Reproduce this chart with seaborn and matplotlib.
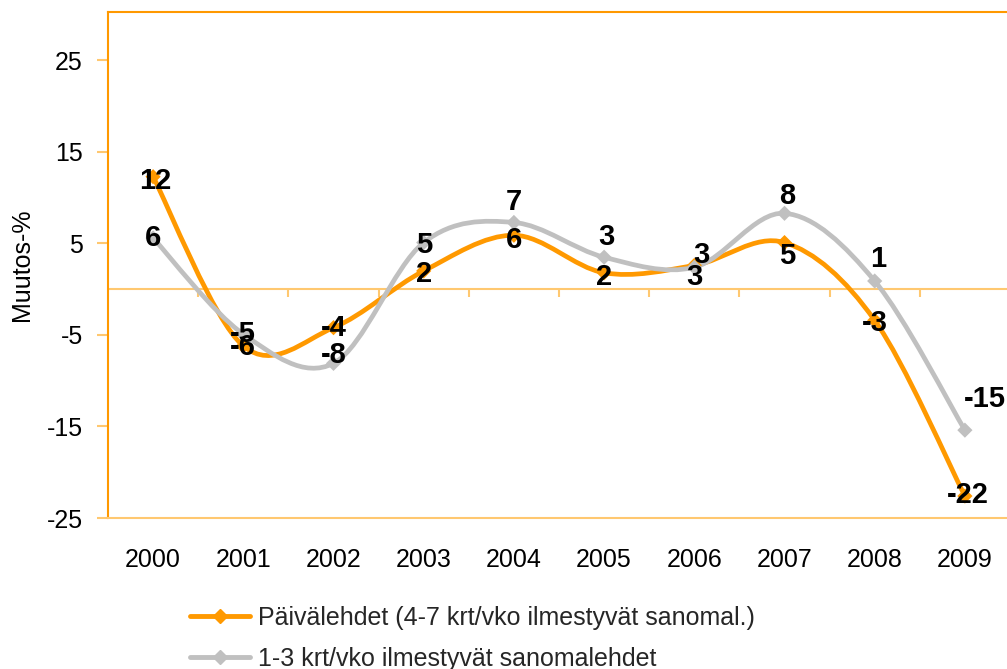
import numpy as np
import pandas as pd
import seaborn as sns
import matplotlib
matplotlib.use("Agg")
import matplotlib.pyplot as plt
from matplotlib.path import Path
from matplotlib.patches import PathPatch
from matplotlib.lines import Line2D

# ---- data ----
years = ["2000", "2001", "2002", "2003", "2004", "2005", "2006", "2007", "2008", "2009"]
paivalehdet = [12.3, -6.2, -4.2, 2.0, 5.9, 1.8, 2.6, 5.1, -3.4, -22.6]
paiva_labels = ["12", "-6", "-4", "2", "6", "2", "3", "5", "-3", "-22"]
harvemmin = [5.6, -4.9, -8.1, 5.1, 7.3, 3.5, 2.4, 8.3, 0.9, -15.4]
harvemmin_labels = ["6", "-5", "-8", "5", "7", "3", "3", "8", "1", "-15"]
series_names = ["Päivälehdet (4-7 krt/vko ilmestyvät sanomal.)",
                "1-3 krt/vko ilmestyvät sanomalehdet"]
yticks = [-25, -15, -5, 5, 15, 25]

# label offsets in pixels (style only)
paiva_off = [(2, -4), (0, -1), (0, 0), (0, -3), (0, -5), (0, -4), (0, -12), (3, -13), (0, -3), (3, 1)]
harv_off = [(0, 0), (0, 0), (0, 8), (0, -2), (0, 20), (2, 20), (7, 12), (3, 17), (3, 22), (20, 31)]

ORANGE = "#FF9900"
GRAY = "#C0C0C0"
LIGHT_OR = "#FFC870"

sns.set_theme(style="white")
plt.rcParams["font.family"] = ["Liberation Sans", "DejaVu Sans"]

fig = plt.figure(figsize=(10.07, 6.69), dpi=100)
W, H = 1007, 669
ax = fig.add_axes([108 / W, 1 - 518 / H, 902 / W, (518 - 12) / H])

x = np.arange(len(years))


def smooth_path(xs, ys):
    pts = np.column_stack([xs, ys]).astype(float)
    n = len(pts)
    verts = [pts[0]]
    codes = [Path.MOVETO]
    for i in range(n - 1):
        p0 = pts[max(i - 1, 0)]
        p1 = pts[i]
        p2 = pts[i + 1]
        p3 = pts[min(i + 2, n - 1)]
        c1 = p1 + (p2 - p0) / 6.0
        c2 = p2 - (p3 - p1) / 6.0
        verts += [c1, c2, p2]
        codes += [Path.CURVE4] * 3
    return Path(verts, codes)


df = pd.DataFrame({
    "x": np.concatenate([x, x]),
    "value": paivalehdet + harvemmin,
    "series": [series_names[0]] * len(x) + [series_names[1]] * len(x),
})

for vals, col, z in [(paivalehdet, ORANGE, 3), (harvemmin, GRAY, 4)]:
    ax.add_patch(PathPatch(smooth_path(x, vals), facecolor="none", edgecolor=col,
                           lw=3.4, zorder=z, capstyle="round", joinstyle="round"))

sns.scatterplot(data=df, x="x", y="value", hue="series", palette=[ORANGE, GRAY],
                marker="D", s=60, linewidth=0, ax=ax, legend=False, zorder=5)

for vals, labs, offs in [(paivalehdet, paiva_labels, paiva_off), (harvemmin, harvemmin_labels, harv_off)]:
    for xi, v, lab, (dx, dy) in zip(x, vals, labs, offs):
        ax.annotate(lab, (xi, v), xytext=(dx, dy), textcoords="offset pixels",
                    ha="center", va="center", fontsize=21, fontweight="bold",
                    color="black", zorder=6)

ax.set_xlim(-0.5, len(years) - 0.5)
ax.set_ylim(-25, 30.3)
ax.set_yticks(yticks)
ax.set_yticklabels([str(t) for t in yticks])
ax.set_xticks(x)
ax.set_xticklabels(years)
ax.tick_params(axis="y", left=True, length=8, width=1.5, color=LIGHT_OR,
               labelsize=18, labelcolor="black", pad=10)
ax.tick_params(axis="x", bottom=False, labelsize=18, labelcolor="black", pad=15.5)
ax.set_xlabel("")
ax.set_ylabel("Muutos-%", fontsize=18, color="black", labelpad=9)

for side in ["left", "top"]:
    ax.spines[side].set_color(ORANGE)
    ax.spines[side].set_linewidth(1.5)
ax.spines["bottom"].set_color(LIGHT_OR)
ax.spines["bottom"].set_linewidth(1.5)
ax.spines["right"].set_visible(False)

# zero axis line with category-boundary ticks
ax.axhline(0, color=LIGHT_OR, lw=1.5, zorder=2)
ax.vlines(np.arange(0.5, len(years) - 0.5), -0.8, 0, color=LIGHT_OR, lw=1.5, zorder=2)

handles = [Line2D([0], [0], color=ORANGE, lw=3.5, marker="D", markersize=7),
           Line2D([0], [0], color=GRAY, lw=3.5, marker="D", markersize=7)]
fig.legend(handles, series_names, loc="upper left", bbox_to_anchor=(190 / W, 1 - 606 / H),
           frameon=False, fontsize=18, handlelength=2.4, handletextpad=0.3,
           labelspacing=0.68, borderpad=0, borderaxespad=0)

fig.savefig("out.png", dpi=100)
